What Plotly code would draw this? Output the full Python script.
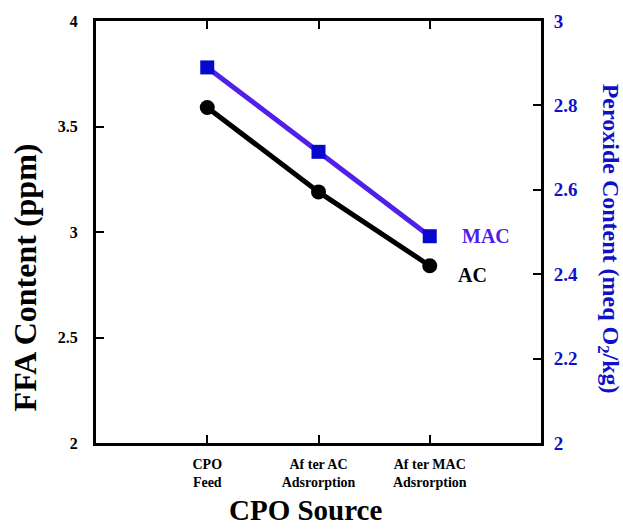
import plotly.graph_objects as go

categories = ["CPO<br>Feed", "Af ter AC<br>Adsrorption", "Af ter MAC<br>Adsrorption"]
ffa_ac = [3.59, 3.19, 2.84]
peroxide_mac = [2.89, 2.69, 2.49]
left_ticks = [2, 2.5, 3, 3.5, 4]
right_ticks = [2, 2.2, 2.4, 2.6, 2.8, 3]

FONT = "Liberation Serif"
BLUE = "#1010c8"
PURPLE = "#5020e8"

x_idx = list(range(len(categories)))

def bold(s):
    return "<b>" + s.replace("<br>", "</b><br><b>") + "</b>"

fig = go.Figure()
fig.add_trace(go.Scatter(
    x=x_idx, y=ffa_ac, mode="lines+markers", name="AC",
    line=dict(color="black", width=5),
    marker=dict(symbol="circle", size=15, color="black"),
    yaxis="y",
))
fig.add_trace(go.Scatter(
    x=x_idx, y=peroxide_mac, mode="lines", name="MAC",
    line=dict(color=PURPLE, width=5),
    yaxis="y2", showlegend=False,
))
fig.add_trace(go.Scatter(
    x=x_idx, y=peroxide_mac, mode="markers", name="MAC",
    marker=dict(symbol="square", size=14, color="#0808cc"),
    yaxis="y2", showlegend=False,
))

fig.update_layout(
    width=623, height=529,
    margin=dict(l=96, r=82, t=21, b=86),
    paper_bgcolor="white", plot_bgcolor="white",
    showlegend=False,
    font=dict(family=FONT, color="black"),
    xaxis=dict(
        range=[-1, 3],
        tickmode="array", tickvals=x_idx, ticktext=[bold(c) for c in categories],
        ticks="inside", ticklen=8, tickwidth=2, tickcolor="black",
        showline=True, linewidth=3, linecolor="black", mirror="ticks",
        showgrid=False, zeroline=False,
        tickfont=dict(family=FONT, size=14, color="black"),
        ticklabelstandoff=6,
    ),
    yaxis=dict(
        range=[2, 4], tickvals=left_ticks,
        ticktext=[bold(f"{v:g}") for v in left_ticks],
        ticks="inside", ticklen=8, tickwidth=2, tickcolor="black",
        showline=True, linewidth=3, linecolor="black",
        showgrid=False, zeroline=False,
        tickfont=dict(family=FONT, size=16, color="black"),
        ticklabelstandoff=12,
    ),
    yaxis2=dict(
        range=[2, 3], tickvals=right_ticks,
        ticktext=[bold(f"{v:g}") for v in right_ticks],
        overlaying="y", side="right",
        ticks="inside", ticklen=8, tickwidth=2, tickcolor="black",
        showline=True, linewidth=3, linecolor="black",
        showgrid=False, zeroline=False,
        tickfont=dict(family=FONT, size=19, color=BLUE),
        ticklabelstandoff=6,
    ),
    annotations=[
        dict(text="<b>FFA Content (ppm)</b>", xref="paper", yref="paper",
             x=-0.16, y=0.392, xanchor="center", yanchor="middle",
             textangle=-90, showarrow=False,
             font=dict(family=FONT, size=32, color="black")),
        dict(text="<b>Peroxide Content (meq O<sub>2</sub>/kg)</b>", xref="paper", yref="paper",
             x=1.152, y=0.485, xanchor="center", yanchor="middle",
             textangle=90, showarrow=False,
             font=dict(family=FONT, size=24, color=BLUE)),
        dict(text="<b>CPO Source</b>", xref="paper", yref="paper",
             x=0.47, y=-0.158, xanchor="center", yanchor="middle",
             showarrow=False,
             font=dict(family=FONT, size=29, color="black")),
        dict(text="<b>MAC</b>", xref="x", yref="y2", x=2.51, y=peroxide_mac[2],
             xanchor="center", yanchor="middle", showarrow=False,
             font=dict(family=FONT, size=20, color=PURPLE)),
        dict(text="<b>AC</b>", xref="x", yref="y", x=2.38, y=ffa_ac[2] - 0.045,
             xanchor="center", yanchor="middle", showarrow=False,
             font=dict(family=FONT, size=20, color="black")),
    ],
)

fig.write_html("out.html")
